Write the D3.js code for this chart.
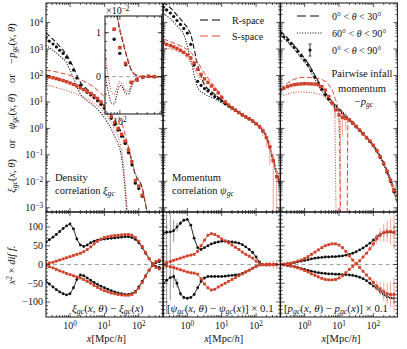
<!DOCTYPE html>
<html>
<head>
<meta charset="utf-8">
<script src="https://cdn.jsdelivr.net/npm/d3@7"></script>
<style>
  body { margin: 0; background: #fff; }
  text { font-family: "Liberation Serif", "DejaVu Serif", serif; fill: #111; }
  .pre { white-space: pre; }
</style>
</head>
<body>
<svg id="chart" width="407" height="349"></svg>
<script>
// ---------------- data ----------------
const xBins = [0.2,0.25,0.32,0.4,0.5,0.63,0.79,1.0,1.26,1.58,2.0,2.51,3.16,3.98,5.01,6.31,7.94,10,12.6,15.8,20,25.1,31.6,39.8,50.1,63.1,79.4,100,126,158,200,251,316,398];
const xLines = [0.2,0.32,0.5,0.79,1.26,2.0,3.16,5.01,7.94,12.6,20,31.6,50.1,79.4,126,200,316,501];

// density correlation xi_gc
const densR = [2600,2000,1550,1200,900,680,480,300,160,80,42,30,23,18.5,14.5,11,8,5.8,3.8,2.4,1.4,0.85,0.5,0.27,0.12,0.042,0.0085,0.0053,0.0027,-0.0013,-0.00075,-0.0002,0.00005,0];
const densS = [95,88,82,76,70,64,58,52,46,40,34,29,25,21,17,13.5,10,7,4.5,2.8,1.65,1.0,0.6,0.33,0.15,0.055,0.0108,0.0066,0.003,-0.0013,-0.0007,-0.0001,0.0001,0];
const densRdash = [4100,2300,1250,620,200,55,30,18,10,4.6,1.9,0.7,0.17,0.018,0.0055,0.0002,null,null];
const densRdot = [1400,900,560,300,80,20,11,7,3.8,1.6,0.5,0.08,0.0001,null,null,null,null,null];
const densSdash = [160,145,128,110,90,72,52,36,21,10.5,4.5,1.6,0.2,0.02,0.0055,0.0002,null,null];
const densSdot = [45,38,32,27,22,17,13,9,5.5,2.6,0.9,0.15,0.0002,null,null,null,null,null];

// inset (units of 1e-2)
const insetX = [55,63,71,79.4,89,100,112,126,141,158,178,200,224,251,282,316,355,398,447,537];
const insetRdash = [3.6,2.9,2.4,1.9,1.4,1.05,0.8,0.55,0.33,0.15,0.06,0.03,0.01,0.0,0.01,0.0,0.0,0.01,0.0,0.0];
const insetSdash = [3.8,3.1,2.5,2.0,1.45,1.08,0.83,0.57,0.35,0.16,0.06,0.02,0.0,0.01,0.0,0.0,0.01,0.0,0.0,0.0];
const insetRdot = [0.05,-0.35,-0.6,-0.62,-0.4,-0.2,-0.25,-0.38,-0.4,-0.25,-0.1,-0.03,0,0,0,0,0,0,0,0];
const insetSdot = [0.5,0.0,-0.35,-0.4,-0.25,-0.12,-0.2,-0.32,-0.33,-0.2,-0.08,-0.02,0,0,0,0,0,0,0,0];

// momentum correlation psi_gc
const momR = [38000,30000,23000,17000,12000,8500,6000,4000,1500,250,60,42,32,26,20,16,13.5,11,8.5,7,5.8,4.8,3.9,3.2,2.7,2.3,1.9,1.5,1.15,0.8,0.45,0.2,0.06,0.015];
const momS = [1700,1500,1350,1200,1050,900,750,600,460,300,170,110,75,55,40,30,22,15,10,7.6,6.0,4.9,4.0,3.3,2.75,2.3,1.9,1.5,1.15,0.8,0.45,0.2,0.06,0.015];
const momSerr = [0,0,0,0,0,0,0,0,0,0,0,0,0,0,0,0,0,0,0,0,0,0,0,0,0,0,0,0,0,0.3,0.25,0.16,0.06,0.015];
const momRdash = [60000,36000,19000,9500,3500,250,45,25,15,9,6,4,2.8,1.95,1.2,0.5,0.07,0.008];
const momRdot = [22000,14000,7500,3500,400,35,20,15,11,8,5.6,3.8,2.6,1.85,1.1,0.42,0.05,0.006];
const momSdash = [2400,1900,1500,1150,750,320,120,55,25,11,6.5,4.2,2.9,2.0,1.2,0.48,0.065,0.008];
const momSdot = [1100,1000,850,650,300,110,45,25,15,8.5,5.6,3.8,2.6,1.85,1.1,0.42,0.055,0.006];

// pairwise infall momentum -p_gc
const pairR = [3900,2900,2200,1600,1150,820,560,380,250,150,85,50,30,19,13,9.2,6.8,5.0,3.8,2.8,2.1,1.55,1.15,0.85,0.62,0.44,0.32,0.22,0.14,0.08,0.045,0.022,0.01,0.004];
const pairS = [28,33,38,42,45,47,48,49,49,48,47,44,38,28,16,9,5,3.2,2.6,2.4,2.1,1.6,1.2,0.87,0.63,0.45,0.33,0.23,0.145,0.085,0.048,0.024,0.011,0.0045];
const pairSerr = [0,0,0,0,0,0,0,0,0,0,0,0,0,0,0,2,2.5,2.6,2.1,1.6,0,0,0,0,0,0,0,0,0,0,0,0,0,0];
const pairRdash = [4600,2600,1350,650,290,100,35,15,7.5,4.1,2.2,1.2,0.65,0.34,0.15,0.05,0.012,0.0025];
const pairRdot = [3300,1850,960,470,210,70,25,11,6.2,3.5,2.0,1.1,0.6,0.3,0.13,0.042,0.009,0.0015];
const pairSdashX = [0.2,0.32,0.5,0.79,1.26,2.0,3.16,5.01,7.41,10,11.5,17.0,18.2,20,31.6,50.1,79.4,126,200,316,501];
const pairSdash = [30,52,72,85,85,80,70,45,16,3,0.0001,0.0001,1.8,2.3,1.25,0.66,0.34,0.15,0.05,0.012,0.0025];
const pairSdotX = [0.2,0.32,0.5,0.79,1.26,2.0,3.16,5.01,7.41,8.5,10.5,11.2,12.6,20,31.6,50.1,79.4,126,200,316,501];
const pairSdot = [16,20,23,24,23,21,18,11,5,0.0001,0.0001,1.8,3.0,1.95,1.08,0.58,0.3,0.13,0.042,0.009,0.0015];

// lower panels: x^2 * difference
const densDiffRup = [60,66,73,80,88,96,103,108,95,68,52,48,52,58,62,65,67,68,69,70,71,72,73,74,74,72,67,58,45,30,15,3,-5,-8];
const densDiffRdn = [-45,-52,-60,-67,-73,-78,-81,-78,-62,-40,-28,-30,-36,-42,-48,-53,-58,-62,-66,-70,-73,-76,-78,-80,-80,-78,-72,-60,-45,-30,-15,-3,5,8];
const densDiffSup = [1,4,6,9,12,15,18,21,24,27,30,34,40,47,55,62,68,72,74,76,77,78,79,80,80,78,72,62,48,32,16,2,-8,-12];
const densDiffSdn = [-3,-6,-9,-13,-17,-20,-24,-27,-30,-33,-36,-40,-45,-50,-56,-61,-66,-70,-73,-76,-78,-80,-81,-82,-82,-80,-74,-63,-48,-32,-15,-2,8,12];

const momDiffRup = [84,86,87,90,100,110,118,120,105,70,45,40,45,50,55,58,60,62,62,61,60,59,57,53,47,40,32,20,6,0,-2,-1,0,0];
const momDiffRdn = [-50,-42,-35,-32,-50,-78,-88,-90,-88,-80,-62,-45,-36,-32,-32,-32,-32,-32,-31,-30,-29,-28,-27,-24,-20,-15,-10,-5,-1,0,0,0,0,0];
const momDiffSup = [2,5,8,11,14,17,20,23,25,27,35,50,65,78,82,80,75,68,63,58,52,46,40,33,27,22,17,9,2,-1,0,0,0,0];
const momDiffSdn = [-2,-4,-6,-8,-11,-14,-17,-20,-22,-23,-26,-38,-52,-62,-68,-66,-60,-55,-50,-45,-40,-35,-30,-25,-20,-15,-10,-5,-1,0,0,0,0,0];
const momErrR = [110,90,60,30,12,6,4,3,2,2,2,2,2,2,2,2,2,2,2,2,2,2,2,2,2,2,2,2,2,2,3,3,4,4];
const momErrS = [0,0,0,0,0,0,0,0,0,0,0,0,0,0,0,0,0,0,0,0,0,0,0,0,0,0,0,0,3,4,6,8,10,12];

const pairDiffRup = [0,1,2,3,5,7,9,11,13,15,17,18,19,20,20,21,21,22,23,25,27,30,34,39,44,50,57,65,74,80,84,86,86,85];
const pairDiffRdn = [0,-1,-3,-4,-6,-8,-11,-13,-16,-18,-20,-22,-23,-24,-25,-25,-26,-26,-27,-27,-28,-29,-31,-34,-38,-43,-50,-57,-64,-72,-80,-86,-89,-90];
const pairDiffSa = [0,1,2,4,6,9,12,16,21,27,33,39,45,50,53,55,55,52,45,35,23,12,2,-8,-18,-28,-38,-48,-57,-65,-72,-78,-80,-80];
const pairDiffSb = [0,-1,-2,-4,-6,-9,-12,-16,-20,-25,-29,-33,-37,-40,-41,-41,-40,-36,-30,-22,-13,-5,2,10,20,30,42,55,68,78,85,88,88,86];
const pairErrR = [3,3,2,1,1,1,1,1,1,1,1,1,1,1,1,1,1,1,1,1,1,1,1,1,1,2,3,4,6,8,10,12,14,16];
const pairErrS = [4,3,2,1,1,1,1,1,1,1,1,1,1,1,1,1,1,1,1,1,1,1,1,1,1,2,4,8,14,18,24,28,34,45];

// ---------------- layout ----------------
const svg = d3.select("#chart");
const defs = svg.append("defs");
const BLK = "#111", RED = "#e5482f", RED_PT = "#cf412a", RED_ERR = "#f2a69a", GRAY_ERR = "#9a9a9a";
const DASH = "5,2.5", DOT = "1.1,1.5";

const panelLeft = [46, 163.3, 280.6];
const panelW = 116.8;
const topTop = 3, mid = 212, botBottom = 317;

const yTop = d3.scaleLog().domain([Math.pow(10, -3.16), Math.pow(10, 4.74)]).range([mid, topTop]);
const yBot = d3.scaleLinear().domain([-140, 140]).range([botBottom, mid]);
const xScales = panelLeft.map(l => d3.scaleLog().domain([0.2, 500]).range([l, l + panelW]));

function addClip(id, x, y, w, h) {
  defs.append("clipPath").attr("id", id).append("rect")
    .attr("x", x).attr("y", y).attr("width", w).attr("height", h);
}

// text with italic/sub/sup pieces
function rich(sel, parts) {
  parts.forEach(([t, k]) => {
    const ts = sel.append("tspan").text(t);
    if (k.includes("i")) ts.attr("font-style", "italic");
    if (k.includes("sub")) ts.attr("baseline-shift", "-28%").attr("font-size", "72%");
    if (k.includes("sup")) ts.attr("baseline-shift", "42%").attr("font-size", "72%");
  });
  return sel;
}

function tick(x1, y1, x2, y2) {
  svg.append("line").attr("x1", x1).attr("y1", y1).attr("x2", x2).attr("y2", y2)
    .attr("stroke", BLK).attr("stroke-width", 0.7);
}

const logMinorsX = [];
[-1, 0, 1, 2].forEach(d => { for (let m = 2; m <= 9; m++) { const v = m * Math.pow(10, d); if (v > 0.2 && v < 500) logMinorsX.push(v); } });
const logMinorsY = [];
[-4, -3, -2, -1, 0, 1, 2, 3, 4].forEach(d => { for (let m = 2; m <= 9; m++) { const v = m * Math.pow(10, d); if (v > yTop.domain()[0] && v < yTop.domain()[1]) logMinorsY.push(v); } });
const decadesY = [1e-3, 1e-2, 1e-1, 1, 10, 100, 1e3, 1e4];
const decadesX = [1, 10, 100];

const lineGen = (x, y) => d3.line()
  .defined(d => d[1] != null && d[1] > 0)
  .x(d => x(d[0])).y(d => y(d[1]))
  .curve(d3.curveMonotoneX);

// ---------------- top panels ----------------
const topSpecs = [
  { lines: [[xLines, densRdot, BLK, DOT], [xLines, densSdot, RED, DOT], [xLines, densRdash, BLK, DASH], [xLines, densSdash, RED, DASH]],
    pts: [[densR, BLK, null], [densS, RED_PT, null]] },
  { lines: [[xLines, momRdot, BLK, DOT], [xLines, momSdot, RED, DOT], [xLines, momRdash, BLK, DASH], [xLines, momSdash, RED, DASH]],
    pts: [[momR, BLK, null], [momS, RED_PT, momSerr]] },
  { lines: [[xLines, pairRdot, BLK, DOT], [pairSdotX, pairSdot, RED, DOT], [xLines, pairRdash, BLK, DASH], [pairSdashX, pairSdash, RED, DASH]],
    pts: [[pairR, BLK, null], [pairS, RED_PT, pairSerr]] }
];

topSpecs.forEach((spec, k) => {
  const x = xScales[k];
  addClip("ct" + k, panelLeft[k], topTop, panelW, mid - topTop);
  const g = svg.append("g").attr("clip-path", `url(#ct${k})`);
  spec.lines.forEach(([xs, ys, col, dash]) => {
    g.append("path").datum(d3.zip(xs, ys)).attr("d", lineGen(x, yTop))
      .attr("fill", "none").attr("stroke", col).attr("stroke-width", col === BLK ? 1.1 : 1)
      .attr("stroke-dasharray", dash);
  });
  spec.pts.forEach(([vals, col, errs]) => {
    const data = xBins.map((xv, i) => ({ x: xv, v: vals[i], e: errs ? errs[i] : 0 })).filter(d => d.v > 0);
    if (errs) {
      g.selectAll(null).data(data.filter(d => d.e > 0)).join("line")
        .attr("x1", d => x(d.x)).attr("x2", d => x(d.x))
        .attr("y1", d => yTop(d.v + d.e))
        .attr("y2", d => d.v - d.e > 0 ? yTop(d.v - d.e) : mid + 5)
        .attr("stroke", RED_ERR).attr("stroke-width", 1);
    }
    if (col === BLK) {
      g.selectAll(null).data(data).join("circle")
        .attr("cx", d => x(d.x)).attr("cy", d => yTop(d.v)).attr("r", 1.6).attr("fill", BLK);
    } else {
      g.selectAll(null).data(data).join("rect")
        .attr("x", d => x(d.x) - 1.7).attr("y", d => yTop(d.v) - 1.7)
        .attr("width", 3.4).attr("height", 3.4).attr("fill", col);
    }
  });
});

// ---------------- bottom panels ----------------
const botSpecs = [
  { series: [[densDiffRup, BLK, null], [densDiffRdn, BLK, null], [densDiffSup, RED, null], [densDiffSdn, RED, null]] },
  { series: [[momDiffRup, BLK, momErrR], [momDiffRdn, BLK, momErrR], [momDiffSup, RED, momErrS], [momDiffSdn, RED, momErrS]] },
  { series: [[pairDiffRup, BLK, pairErrR], [pairDiffRdn, BLK, pairErrR], [pairDiffSa, RED, pairErrS], [pairDiffSb, RED, pairErrS]] }
];

botSpecs.forEach((spec, k) => {
  const x = xScales[k];
  addClip("cb" + k, panelLeft[k], mid, panelW, botBottom - mid);
  const g = svg.append("g").attr("clip-path", `url(#cb${k})`);
  g.append("line").attr("x1", panelLeft[k]).attr("x2", panelLeft[k] + panelW)
    .attr("y1", yBot(0)).attr("y2", yBot(0))
    .attr("stroke", "#8a8a8a").attr("stroke-width", 0.8).attr("stroke-dasharray", "4,3");
  spec.series.forEach(([vals, col, errs]) => {
    const data = xBins.map((xv, i) => ({ x: xv, v: vals[i], e: errs ? errs[i] : 0 }));
    if (errs) {
      g.selectAll(null).data(data.filter(d => d.e > 2.5)).join("line")
        .attr("x1", d => x(d.x)).attr("x2", d => x(d.x))
        .attr("y1", d => yBot(d.v + d.e)).attr("y2", d => yBot(d.v - d.e))
        .attr("stroke", col === BLK ? GRAY_ERR : RED_ERR).attr("stroke-width", 1);
    }
    g.append("path").datum(data)
      .attr("d", d3.line().x(d => x(d.x)).y(d => yBot(d.v)))
      .attr("fill", "none").attr("stroke", col).attr("stroke-width", 0.9);
    if (col === BLK) {
      g.selectAll(null).data(data).join("circle")
        .attr("cx", d => x(d.x)).attr("cy", d => yBot(d.v)).attr("r", 1.4).attr("fill", BLK);
    } else {
      g.selectAll(null).data(data).join("rect")
        .attr("x", d => x(d.x) - 1.4).attr("y", d => yBot(d.v) - 1.4)
        .attr("width", 2.8).attr("height", 2.8).attr("fill", RED_PT);
    }
  });
});

// ---------------- frames & ticks ----------------
panelLeft.forEach((l, k) => {
  const x = xScales[k];
  const r = l + panelW;
  [[topTop, mid], [mid, botBottom]].forEach(([t, b]) => {
    svg.append("rect").attr("x", l).attr("y", t).attr("width", panelW).attr("height", b - t)
      .attr("fill", "none").attr("stroke", BLK).attr("stroke-width", 1);
    decadesX.forEach(v => { tick(x(v), t, x(v), t + 4); tick(x(v), b, x(v), b - 4); });
    logMinorsX.forEach(v => { tick(x(v), t, x(v), t + 2); tick(x(v), b, x(v), b - 2); });
  });
  decadesY.forEach(v => { tick(l, yTop(v), l + 4, yTop(v)); tick(r, yTop(v), r - 4, yTop(v)); });
  logMinorsY.forEach(v => { tick(l, yTop(v), l + 2, yTop(v)); tick(r, yTop(v), r - 2, yTop(v)); });
  d3.range(-130, 140, 10).forEach(v => {
    const len = v % 50 === 0 ? 4 : 2;
    tick(l, yBot(v), l + len, yBot(v)); tick(r, yBot(v), r - len, yBot(v));
  });
  // x tick labels
  decadesX.forEach((v, j) => {
    rich(svg.append("text").attr("x", x(v)).attr("y", 329).attr("text-anchor", "middle").attr("font-size", 10),
      [["10", ""], [String(j), "sup"]]);
  });
  rich(svg.append("text").attr("x", l + panelW / 2 + 2).attr("y", 342).attr("text-anchor", "middle").attr("font-size", 10.5),
    [["x", "i"], ["[Mpc/", ""], ["h", "i"], ["]", ""]]);
});

// y tick labels
decadesY.forEach(v => {
  const e = Math.round(Math.log10(v));
  rich(svg.append("text").attr("x", 43).attr("y", yTop(v) + 3.5).attr("text-anchor", "end").attr("font-size", 10),
    [["10", ""], [e < 0 ? "\u2212" + (-e) : String(e), "sup"]]);
});
[100, 50, 0, -50, -100].forEach(v => {
  svg.append("text").attr("x", 43).attr("y", yBot(v) + 3.3).attr("text-anchor", "end").attr("font-size", 10)
    .text(v < 0 ? "\u2212" + (-v) : String(v));
});

// axis titles
rich(svg.append("text").attr("class", "pre").attr("transform", "translate(15,108) rotate(-90)").attr("text-anchor", "middle").attr("font-size", 10.5),
  [["\u03be", "i"], ["gc", "isub"], ["(", ""], ["x", "i"], [", ", ""], ["\u03b8", "i"], [")    or    ", ""],
   ["\u03c8", "i"], ["gc", "isub"], ["(", ""], ["x", "i"], [", ", ""], ["\u03b8", "i"], [")    or    \u2212", ""],
   ["p", "i"], ["gc", "isub"], ["(", ""], ["x", "i"], [", ", ""], ["\u03b8", "i"], [")", ""]]);
rich(svg.append("text").attr("transform", "translate(15,265) rotate(-90)").attr("text-anchor", "middle").attr("font-size", 10.5),
  [["x", "i"], ["2", "sup"], [" \u00d7 ", ""], ["dif f.", "i"]]);

// ---------------- panel annotations ----------------
const ann = (x, y, parts, anchor = "start", size = 10.5) =>
  rich(svg.append("text").attr("x", x).attr("y", y).attr("text-anchor", anchor).attr("font-size", size), parts);
ann(55, 181, [["Density", ""]]);
ann(55, 194, [["correlation ", ""], ["\u03be", "i"], ["gc", "isub"]]);
ann(172, 181, [["Momentum", ""]]);
ann(172, 194, [["correlation ", ""], ["\u03c8", "i"], ["gc", "isub"]]);
ann(362, 77, [["Pairwise infall", ""]], "middle");
ann(362, 92, [["momentum", ""]], "middle");
ann(364, 105, [["\u2212", ""], ["p", "i"], ["gc", "isub"]], "middle");

ann(72, 312, [["\u03be", "i"], ["gc", "isub"], ["(", ""], ["x", "i"], [", ", ""], ["\u03b8", "i"], [") \u2212 ", ""], ["\u03be", "i"], ["gc", "isub"], ["(", ""], ["x", "i"], [")", ""]], "start", 11);
ann(167, 312, [["[", ""], ["\u03c8", "i"], ["gc", "isub"], ["(", ""], ["x", "i"], [", ", ""], ["\u03b8", "i"], [") \u2212 ", ""], ["\u03c8", "i"], ["gc", "isub"], ["(", ""], ["x", "i"], [")] \u00d7 0.1", ""]], "start", 10.8);
ann(284, 312, [["[", ""], ["p", "i"], ["gc", "isub"], ["(", ""], ["x", "i"], [", ", ""], ["\u03b8", "i"], [") \u2212 ", ""], ["p", "i"], ["gc", "isub"], ["(", ""], ["x", "i"], [")] \u00d7 0.1", ""]], "start", 10.8);

// ---------------- legends ----------------
function legLine(x1, x2, y, col, dash, w) {
  svg.append("line").attr("x1", x1).attr("x2", x2).attr("y1", y).attr("y2", y)
    .attr("stroke", col).attr("stroke-width", w).attr("stroke-dasharray", dash);
}
legLine(200, 222, 20, "#555", "8,4", 1.6);
ann(232, 23.5, [["R-space", ""]], "start", 10);
legLine(200, 222, 36, RED, "8,4", 1);
ann(232, 39.5, [["S-space", ""]], "start", 10);

legLine(297, 323, 16, BLK, "9,4", 1.2);
ann(332, 19.5, [["0\u00b0 < ", ""], ["\u03b8", "i"], [" < 30\u00b0", ""]], "start", 10);
legLine(297, 323, 33, BLK, DOT, 1.1);
ann(332, 36.5, [["60\u00b0 < ", ""], ["\u03b8", "i"], [" < 90\u00b0", ""]], "start", 10);
svg.append("line").attr("x1", 310).attr("x2", 310).attr("y1", 44).attr("y2", 56).attr("stroke", BLK).attr("stroke-width", 0.8);
svg.append("line").attr("x1", 308.5).attr("x2", 311.5).attr("y1", 44).attr("y2", 44).attr("stroke", BLK).attr("stroke-width", 0.8);
svg.append("line").attr("x1", 308.5).attr("x2", 311.5).attr("y1", 56).attr("y2", 56).attr("stroke", BLK).attr("stroke-width", 0.8);
svg.append("circle").attr("cx", 310).attr("cy", 50).attr("r", 1.6).attr("fill", BLK);
ann(332, 53.5, [["0\u00b0 < ", ""], ["\u03b8", "i"], [" < 90\u00b0", ""]], "start", 10);

// ---------------- inset ----------------
const inL = 105, inR = 161.7, inT = 16, inB = 114;
const ix = d3.scaleLog().domain([55, 537]).range([inL, inR]);
const iy = d3.scaleLinear().domain([-0.85, 1.38]).range([inB, inT]);
svg.append("rect").attr("x", inL).attr("y", inT).attr("width", inR - inL).attr("height", inB - inT).attr("fill", "#fff");
addClip("cin", inL, inT, inR - inL, inB - inT);
const gi = svg.append("g").attr("clip-path", "url(#cin)");
gi.append("line").attr("x1", inL).attr("x2", inR).attr("y1", iy(0)).attr("y2", iy(0))
  .attr("stroke", "#8a8a8a").attr("stroke-width", 0.8).attr("stroke-dasharray", "4,3");
const inLine = d3.line().x(d => ix(d[0])).y(d => iy(d[1])).curve(d3.curveMonotoneX);
[[insetRdot, BLK, DOT], [insetSdot, RED, DOT], [insetRdash, BLK, DASH], [insetSdash, RED, DASH]].forEach(([ys, col, dash]) => {
  gi.append("path").datum(d3.zip(insetX, ys)).attr("d", inLine)
    .attr("fill", "none").attr("stroke", col).attr("stroke-width", 1.1).attr("stroke-dasharray", dash);
});
[[densR, BLK], [densS, RED_PT]].forEach(([vals, col]) => {
  const data = xBins.map((xv, i) => ({ x: xv, v: vals[i] * 100 })).filter(d => d.x >= 55);
  if (col === BLK) {
    gi.selectAll(null).data(data).join("circle").attr("cx", d => ix(d.x)).attr("cy", d => iy(d.v)).attr("r", 1.7).attr("fill", BLK);
  } else {
    gi.selectAll(null).data(data).join("rect").attr("x", d => ix(d.x) - 1.8).attr("y", d => iy(d.v) - 1.8)
      .attr("width", 3.6).attr("height", 3.6).attr("fill", col);
  }
});
svg.append("rect").attr("x", inL).attr("y", inT).attr("width", inR - inL).attr("height", inB - inT)
  .attr("fill", "none").attr("stroke", BLK).attr("stroke-width", 1);
[0, 1].forEach(v => { tick(inL, iy(v), inL + 4, iy(v)); tick(inR, iy(v), inR - 4, iy(v)); });
d3.range(-0.8, 1.4, 0.2).forEach(v => { tick(inL, iy(v), inL + 2, iy(v)); tick(inR, iy(v), inR - 2, iy(v)); });
[100].forEach(v => { tick(ix(v), inT, ix(v), inT + 4); tick(ix(v), inB, ix(v), inB - 4); });
[60, 70, 80, 90, 200, 300, 400, 500].forEach(v => { tick(ix(v), inT, ix(v), inT + 2); tick(ix(v), inB, ix(v), inB - 2); });
svg.append("text").attr("x", 101).attr("y", iy(1) + 3.5).attr("text-anchor", "end").attr("font-size", 10).text("1");
svg.append("text").attr("x", 101).attr("y", iy(0) + 3.5).attr("text-anchor", "end").attr("font-size", 10).text("0");
rich(svg.append("text").attr("x", 106).attr("y", 14).attr("font-size", 10), [["\u00d710", ""], ["\u22122", "sup"]]);
rich(svg.append("text").attr("x", ix(100)).attr("y", 125).attr("text-anchor", "middle").attr("font-size", 10), [["10", ""], ["2", "sup"]]);
</script>
</body>
</html>
